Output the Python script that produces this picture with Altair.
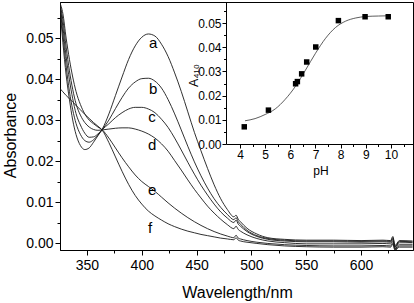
import altair as alt
import pandas as pd

# ---------------- data ----------------
WAVELENGTH = [325, 328, 331, 334, 337, 340, 344, 348, 352, 356, 360, 364, 370, 376,
              382, 388, 394, 400, 406, 412, 418, 424, 430, 436, 442, 448, 454, 460,
              466, 472, 478, 484, 486, 488, 490, 496, 505, 515, 530, 550, 575, 600,
              620, 627, 629, 631, 635, 647]

CURVE_A = [.0585, .049, .041, .035, .030, .0265, .0238, .0228, .0232, .0246, .0262, .0278,
           .0315, .0360, .0405, .0448, .0481, .0502, .0510, .0505, .0485, .0455, .0415,
           .0370, .0320, .0270, .0225, .0182, .0142, .0108, .0082, .0064, .0068, .0058,
           .0052, .0036, .0022, .0013, .0009, .0007, .0007, .0006, .0007, .0006, .0016,
           -.0006, .0006, .0005]
CURVE_B = [.0588, .0510, .0432, .0370, .0325, .0292, .0265, .0250, .0246, .0252, .0263,
           .0277, .0300, .0328, .0355, .0378, .0393, .0401, .0402, .0395, .0378, .0350,
           .0315, .0276, .0236, .0198, .0164, .0134, .0108, .0087, .0070, .0057, .0062,
           .0052, .0046, .0031, .0018, .0011, .0007, .0005, .0005, .0004, .0005, .0004,
           .0013, -.0009, .0004, .0003]
CURVE_C = [.0588, .0528, .0455, .0398, .0352, .0316, .0288, .0268, .0258, .0259, .0266,
           .0277, .0291, .0306, .0318, .0327, .0331, .0331, .0327, .0318, .0302, .0282,
           .0256, .0227, .0197, .0168, .0141, .0117, .0095, .0076, .0061, .0050, .0056,
           .0046, .0041, .0028, .0016, .0009, .0005, .0003, .0003, .0002, .0003, .0002,
           .0010, -.0011, .0002, .0001]
CURVE_D = [.0588, .0545, .0478, .0420, .0375, .0340, .0312, .0294, .0283, .0277, .0275,
           .0276, .0278, .0280, .0281, .0281, .0278, .0273, .0266, .0256, .0242, .0224,
           .0201, .0178, .0154, .0131, .0110, .0090, .0073, .0058, .0045, .0035, .0041,
           .0033, .0029, .0020, .0011, .0005, .0001, -.0002, -.0002, -.0002, -.0001,
           -.0002, .0006, -.0014, -.0003, -.0003]
CURVE_E = [.0588, .0560, .0500, .0448, .0405, .0370, .0338, .0315, .0300, .0291, .0283,
           .0276, .0256, .0232, .0208, .0186, .0166, .0150, .0138, .0126, .0112, .0098,
           .0085, .0073, .0062, .0052, .0043, .0035, .0028, .0022, .0017, .0013, .0019,
           .0012, .0010, .0006, .0002, -.0001, -.0004, -.0006, -.0007, -.0007, -.0006,
           -.0007, .0001, -.0016, -.0007, -.0007]
CURVE_F = [.0378, .0369, .0360, .0352, .0344, .0336, .0325, .0314, .0304, .0294, .0285,
           .0275, .0245, .0210, .0175, .0143, .0116, .0095, .0078, .0066, .0056, .0047,
           .0040, .0034, .0029, .0025, .0021, .0018, .0015, .0012, .0010, .0008, .0013,
           .0007, .0005, .0002, -.0001, -.0004, -.0007, -.0009, -.0010, -.0010, -.0009,
           -.0010, -.0003, -.0018, -.0010, -.0010]

CURVE_NAMES = ["a", "b", "c", "d", "e", "f"]
LABEL_WL = [410.3, 410.3, 409.4, 409.4, 409.4, 407.5]
LABEL_ABS = [0.0488, 0.0376, 0.0308, 0.0238, 0.0130, 0.0037]

PH = [4.17, 5.13, 6.21, 6.28, 6.45, 6.65, 7.01, 7.91, 8.97, 9.89]
A410 = [0.0071, 0.0140, 0.0249, 0.0258, 0.0290, 0.0339, 0.0401, 0.0510, 0.0526, 0.0526]

FIT_PH = [4.2, 4.6, 5.0, 5.4, 5.8, 6.2, 6.6, 7.0, 7.4, 7.8, 8.2, 8.6, 9.0, 9.5, 9.9]
FIT_A410 = [0.0096, 0.0105, 0.0122, 0.0145, 0.0185, 0.0238, 0.0305, 0.0375, 0.0437,
            0.0482, 0.0508, 0.0521, 0.0527, 0.0529, 0.0530]

MAIN_X_MAJOR = [350, 400, 450, 500, 550, 600]
MAIN_X_MINOR = [375, 425, 475, 525, 575, 625]
MAIN_Y_MAJOR = [0.00, 0.01, 0.02, 0.03, 0.04, 0.05]
MAIN_Y_MINOR = [0.005, 0.015, 0.025, 0.035, 0.045, 0.055]
IN_X_MAJOR = [4, 5, 6, 7, 8, 9, 10]
IN_X_MINOR = [4.5, 5.5, 6.5, 7.5, 8.5, 9.5, 10.5]
IN_Y_MAJOR = [0.00, 0.01, 0.02, 0.03, 0.04, 0.05]
IN_Y_MINOR = [0.005, 0.015, 0.025, 0.035, 0.045, 0.055]

FONT = "Liberation Sans"

# ---------------- tables ----------------
rows = []
for name, vals in zip(CURVE_NAMES, [CURVE_A, CURVE_B, CURVE_C, CURVE_D, CURVE_E, CURVE_F]):
    for w, v in zip(WAVELENGTH, vals):
        rows.append({"curve": name, "wl": w, "abs": v})
spectra = pd.DataFrame(rows)
labels = pd.DataFrame({"curve": CURVE_NAMES, "wl": LABEL_WL, "abs": LABEL_ABS})
points = pd.DataFrame({"ph": PH, "a": A410})
fit = pd.DataFrame({"ph": FIT_PH, "a": FIT_A410})

# ---------------- scales ----------------
xmain = alt.Scale(domain=[325.4, 647.4], nice=False, zero=False)
ymain = alt.Scale(domain=[-0.0017, 0.0588], nice=False, zero=False)
xin = alt.Scale(domain=[3.444, 10.874], range=[166, 353], nice=False, zero=False)
yin = alt.Scale(domain=[0.0, 0.0587], range=[142, 0], nice=False, zero=False)

# ---------------- main spectra ----------------
lines = alt.Chart(spectra).mark_line(
    color="#1a1a1a", strokeWidth=0.9, clip=True, interpolate="monotone"
).encode(
    x=alt.X("wl:Q", scale=xmain, axis=alt.Axis(
        orient="bottom", values=MAIN_X_MAJOR, format="d", tickSize=5, labelPadding=3,
        labelFontSize=14, title="Wavelength/nm", titleFontSize=16, titleX=177, titleY=47.5,
        titleAlign="center", titleBaseline="alphabetic")),
    y=alt.Y("abs:Q", scale=ymain, axis=alt.Axis(
        orient="left", values=MAIN_Y_MAJOR, format=".2f", tickSize=5, labelPadding=2,
        labelFontSize=14, title="Absorbance", titleFontSize=16, titleAngle=270,
        titleX=-45, titleY=133, titleAlign="center", titleBaseline="alphabetic")),
    detail="curve:N",
)

curve_labels = alt.Chart(labels).mark_text(
    font=FONT, fontSize=15, color="black", align="center", baseline="middle"
).encode(
    x=alt.X("wl:Q", scale=xmain, axis=None),
    y=alt.Y("abs:Q", scale=ymain, axis=None),
    text="curve:N",
)

main_minor = alt.Chart(labels).mark_point(opacity=0).encode(
    x=alt.X("wl:Q", scale=xmain, axis=alt.Axis(
        orient="bottom", values=MAIN_X_MINOR, labels=False, tickSize=3, domain=False, title=None)),
    y=alt.Y("abs:Q", scale=ymain, axis=alt.Axis(
        orient="left", values=MAIN_Y_MINOR, labels=False, tickSize=3, domain=False, title=None)),
)

# ---------------- inset ----------------
inset_fit = alt.Chart(fit).mark_line(
    color="#333333", strokeWidth=0.8, interpolate="monotone"
).encode(
    x=alt.X("ph:Q", scale=xin, axis=None),
    y=alt.Y("a:Q", scale=yin, axis=None),
)

inset_points = alt.Chart(points).mark_square(size=30, color="black", opacity=1).encode(
    x=alt.X("ph:Q", scale=xin, axis=alt.Axis(
        orient="bottom", offset=-106, values=IN_X_MAJOR, format="d", tickSize=4,
        labelPadding=1, labelFontSize=12, title="pH", titleFontSize=12, titleX=260.5,
        titleY=30.5, titleAlign="center", titleBaseline="alphabetic")),
    y=alt.Y("a:Q", scale=yin, axis=alt.Axis(
        orient="left", offset=-166, values=IN_Y_MAJOR, format=".2f", tickSize=4,
        labelPadding=1, labelFontSize=12, title="A₄₁₀", titleFontSize=12.5,
        titleAngle=270, titleX=-29, titleY=73, titleAlign="center",
        titleBaseline="alphabetic")),
)

inset_minor = alt.Chart(points).mark_point(opacity=0).encode(
    x=alt.X("ph:Q", scale=xin, axis=alt.Axis(
        orient="bottom", offset=-106, values=IN_X_MINOR, labels=False, tickSize=2.5,
        domain=False, title=None)),
    y=alt.Y("a:Q", scale=yin, axis=alt.Axis(
        orient="left", offset=-166, values=IN_Y_MINOR, labels=False, tickSize=2.5,
        domain=False, title=None)),
)

chart = alt.layer(
    lines, curve_labels, main_minor, inset_fit, inset_points, inset_minor
).resolve_scale(
    x="independent", y="independent"
).properties(
    width=353, height=248,
    autosize=alt.AutoSizeParams(type="none"),
    padding={"left": 60, "top": 2, "right": 1, "bottom": 53},
    background="white",
).configure_view(
    stroke="black", strokeWidth=1
).configure_axis(
    grid=False, domainColor="black", tickColor="black", labelColor="black",
    titleColor="black", labelFont=FONT, titleFont=FONT, domainWidth=1, tickWidth=1,
    titleFontWeight="normal",
)

chart.save("out.html", embed_options={"renderer": "svg", "actions": False})
